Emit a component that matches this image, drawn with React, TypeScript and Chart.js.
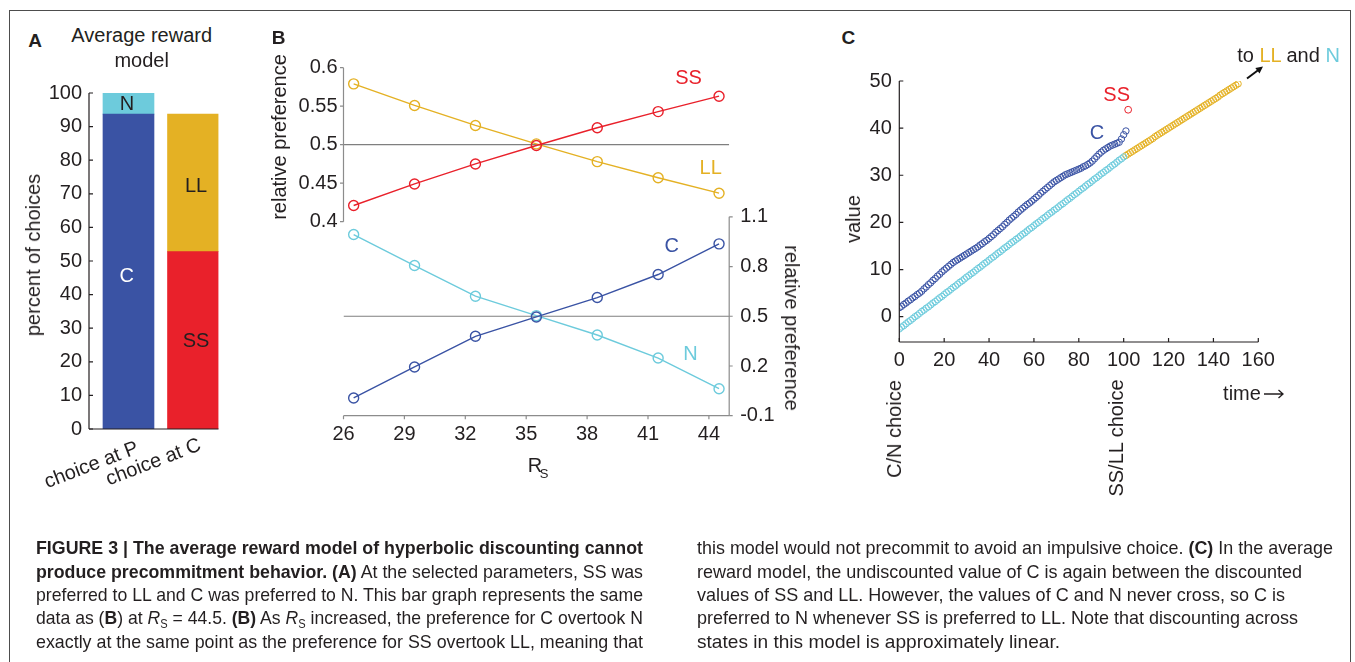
import React, { useEffect, useRef } from 'react';
import { Chart, registerables } from 'chart.js';

Chart.register(...registerables);

const FONT = '"Liberation Sans", Arial, Helvetica, sans-serif';
const NARROW = '"Liberation Sans Narrow", "Arial Narrow", "Liberation Sans", sans-serif';
const INK = '#231f20';
const NAVY = '#3a53a4';
const CYAN = '#6dcbdc';
const GOLD = '#e4b124';
const RED = '#e9212b';
const GRAY = '#8c8c8c';

// ---------- Panel A : percent of choices ----------
const barCategories = ['choice at P', 'choice at C'];
const barC = [93.7, null];
const barN = [6.3, null];
const barSS = [null, 52.8];
const barLL = [null, 40.9];
const percentTicks = [0, 10, 20, 30, 40, 50, 60, 70, 80, 90, 100];

// ---------- Panel B : relative preference vs R_S ----------
const rsValues = [26.5, 29.5, 32.5, 35.5, 38.5, 41.5, 44.5];
const prefSS = [0.421, 0.449, 0.475, 0.499, 0.522, 0.543, 0.563];
const prefLL = [0.579, 0.551, 0.525, 0.501, 0.478, 0.457, 0.437];
const prefC = [0.007, 0.194, 0.379, 0.496, 0.613, 0.752, 0.937];
const prefN = [0.993, 0.806, 0.621, 0.504, 0.387, 0.248, 0.063];
const rsTicks = [26, 29, 32, 35, 38, 41, 44];
const rsRange = [26, 45];
const prefTicksTop = [0.4, 0.45, 0.5, 0.55, 0.6];
const prefTicksBottom = [-0.1, 0.2, 0.5, 0.8, 1.1];
const indifference = 0.5;

// ---------- Panel C : value over time ----------
const timeStartC = 0;
const valueC = [
  1.9, 2.2, 2.6, 2.9, 3.3, 3.6, 4.0, 4.3, 4.7, 5.0,
  5.4, 5.9, 6.3, 6.8, 7.2, 7.7, 8.1, 8.6, 9.0, 9.5,
  9.9, 10.3, 10.7, 11.1, 11.5, 11.8, 12.1, 12.4, 12.7, 13.0,
  13.3, 13.6, 13.9, 14.2, 14.5, 14.8, 15.2, 15.5, 15.9, 16.2,
  16.6, 17.0, 17.4, 17.9, 18.3, 18.7, 19.1, 19.6, 20.0, 20.5,
  20.9, 21.3, 21.7, 22.2, 22.6, 23.0, 23.4, 23.8, 24.1, 24.5,
  24.9, 25.3, 25.7, 26.2, 26.6, 27.0, 27.4, 27.8, 28.2, 28.6,
  28.9, 29.2, 29.5, 29.8, 30.1, 30.3, 30.5, 30.7, 30.9, 31.1,
  31.3, 31.5, 31.8, 32.0, 32.3, 32.6, 33.0, 33.5, 34.0, 34.5,
  34.9, 35.3, 35.6, 35.9, 36.2, 36.4, 36.6, 36.8, 37.0, 37.7,
  38.6, 39.4,
];
const timeStartN = 0;
const valueN = [
  -2.6, -2.2, -1.9, -1.5, -1.1, -0.8, -0.4, 0.0, 0.3, 0.7,
  1.1, 1.4, 1.8, 2.1, 2.5, 2.9, 3.2, 3.6, 4.0, 4.3,
  4.7, 5.1, 5.4, 5.8, 6.2, 6.5, 6.9, 7.3, 7.6, 8.0,
  8.4, 8.7, 9.1, 9.4, 9.8, 10.2, 10.5, 10.9, 11.3, 11.6,
  12.0, 12.4, 12.7, 13.1, 13.5, 13.8, 14.2, 14.6, 14.9, 15.3,
  15.7, 16.0, 16.4, 16.7, 17.1, 17.5, 17.8, 18.2, 18.6, 18.9,
  19.3, 19.7, 20.0, 20.4, 20.8, 21.1, 21.5, 21.9, 22.2, 22.6,
  22.9, 23.3, 23.7, 24.0, 24.4, 24.8, 25.1, 25.5, 25.9, 26.2,
  26.6, 27.0, 27.3, 27.7, 28.1, 28.4, 28.8, 29.2, 29.5, 29.9,
  30.3, 30.6, 31.0, 31.3, 31.7, 32.1, 32.4, 32.8, 33.2, 33.5,
  33.9,
];
const timeStartLL = 101;
const valueLL = [
  34.2, 34.5, 34.8, 35.1, 35.4, 35.7, 36.0, 36.3, 36.6, 36.9,
  37.2, 37.5, 37.8, 38.2, 38.5, 38.8, 39.1, 39.4, 39.7, 40.0,
  40.3, 40.6, 40.9, 41.2, 41.5, 41.8, 42.1, 42.4, 42.7, 43.0,
  43.3, 43.6, 43.9, 44.2, 44.5, 44.8, 45.1, 45.4, 45.7, 46.0,
  46.3, 46.6, 47.0, 47.3, 47.6, 47.9, 48.2, 48.5, 48.8, 49.1,
  49.4,
];
const ssTime = 102;
const ssValue = 43.9;
const timeTicks = [0, 20, 40, 60, 80, 100, 120, 140, 160];
const valueTicks = [0, 10, 20, 30, 40, 50];

// ---------- helpers ----------
const tickFont = { family: FONT, size: 20 };

function axisLines(specs: any[]) {
  return {
    id: 'axisLines',
    afterDatasetsDraw(chart: any) {
      const ctx = chart.ctx;
      const ca = chart.chartArea;
      specs.forEach((s) => {
        const sc = chart.scales[s.scaleId];
        ctx.save();
        ctx.strokeStyle = s.color;
        ctx.lineWidth = s.width;
        ctx.beginPath();
        if (s.side === 'bottom') {
          const y = ca.bottom;
          ctx.moveTo(sc.getPixelForValue(s.from), y);
          ctx.lineTo(sc.getPixelForValue(s.to), y);
          s.ticks.forEach((v: number) => {
            const x = sc.getPixelForValue(v);
            ctx.moveTo(x, y);
            ctx.lineTo(x, y + s.dir * s.len);
          });
        } else {
          const x = s.side === 'left' ? ca.left : ca.right;
          const out = s.side === 'left' ? -1 : 1;
          ctx.moveTo(x, sc.getPixelForValue(s.from));
          ctx.lineTo(x, sc.getPixelForValue(s.to));
          s.ticks.forEach((v: number) => {
            const y = sc.getPixelForValue(v);
            ctx.moveTo(x, y);
            ctx.lineTo(x + out * s.dir * s.len, y);
          });
        }
        ctx.stroke();
        ctx.restore();
      });
    },
  };
}

const baseOptions = {
  animation: false,
  responsive: false,
  events: [],
  plugins: { legend: { display: false }, tooltip: { enabled: false } },
};

function linearAxis(min: number, max: number, ticks: number[], extra: any) {
  return {
    type: 'linear',
    min,
    max,
    offset: false,
    grid: { display: false, drawTicks: false, tickLength: 0 },
    border: { display: false },
    afterBuildTicks: (s: any) => {
      s.ticks = ticks.map((v) => ({ value: v }));
    },
    ...extra,
  };
}

function tickOpts(padding: number) {
  return { font: tickFont, color: INK, padding, callback: (v: any) => String(v), autoSkip: false, maxRotation: 0, minRotation: 0 };
}

// ---------- chart configs ----------
function barSet(label: string, values: (number | null)[], color: string) {
  return {
    label,
    data: values
      .map((v, i) => (v == null ? null : { x: i, y: v }))
      .filter((p) => p !== null),
    backgroundColor: color,
    borderWidth: 0,
    barThickness: 51,
    stack: 'choices',
  };
}

function configA() {
  return {
    type: 'bar',
    data: {
      datasets: [
        barSet('C', barC, NAVY),
        barSet('N', barN, CYAN),
        barSet('SS', barSS, RED),
        barSet('LL', barLL, GOLD),
      ],
    },
    options: {
      ...baseOptions,
      layout: { padding: { top: 23, right: 21.5, left: 0, bottom: 71 } },
      scales: {
        x: { type: 'linear', display: false, offset: false, min: -0.612, max: 1.395 },
        y: linearAxis(0, 100, percentTicks, {
          afterFit: (s: any) => { s.width = 89; },
          ticks: tickOpts(7),
        }),
      },
    },
    plugins: [
      axisLines([
        { scaleId: 'y', side: 'left', from: 0, to: 100, ticks: percentTicks, dir: -1, len: 4, color: INK, width: 1.2 },
        { scaleId: 'x', side: 'bottom', from: -0.612, to: 1.395, ticks: [], dir: 1, len: 0, color: INK, width: 1.2 },
      ]),
    ],
  };
}

function prefSet(label: string, values: number[], color: string, axis: string) {
  return {
    label,
    data: rsValues.map((x, i) => ({ x, y: values[i] })),
    yAxisID: axis,
    borderColor: color,
    borderWidth: 1.4,
    pointRadius: 5,
    pointBorderWidth: 1.4,
    pointBorderColor: color,
    pointBackgroundColor: 'rgba(0,0,0,0)',
    fill: false,
    tension: 0,
  };
}

function refLine(axis: string) {
  return {
    label: 'indifference',
    data: rsRange.map((x) => ({ x, y: indifference })),
    yAxisID: axis,
    borderColor: '#7f7f7f',
    borderWidth: 1.2,
    pointRadius: 0,
    fill: false,
  };
}

function configB() {
  return {
    type: 'line',
    data: {
      datasets: [
        prefSet('SS', prefSS, RED, 'yTop'),
        prefSet('LL', prefLL, GOLD, 'yTop'),
        prefSet('C', prefC, NAVY, 'yBottom'),
        prefSet('N', prefN, CYAN, 'yBottom'),
        refLine('yTop'),
        refLine('yBottom'),
      ],
    },
    options: {
      ...baseOptions,
      layout: { padding: { top: 27.7, right: 0, left: 0, bottom: 0 } },
      scales: {
        x: linearAxis(rsRange[0], rsRange[1], rsTicks, {
          position: 'bottom',
          afterFit: (s: any) => { s.height = 64.3; },
          ticks: tickOpts(7),
        }),
        yTop: linearAxis(0.148, 0.6, prefTicksTop, {
          position: 'left',
          afterFit: (s: any) => { s.width = 73.5; },
          ticks: tickOpts(6),
        }),
        yBottom: linearAxis(-0.1, 2.0, prefTicksBottom, {
          position: 'right',
          afterFit: (s: any) => { s.width = 70.8; },
          ticks: tickOpts(11),
        }),
      },
    },
    plugins: [
      axisLines([
        { scaleId: 'yTop', side: 'left', from: 0.4, to: 0.6, ticks: prefTicksTop, dir: 1, len: 3.5, color: GRAY, width: 1.2 },
        { scaleId: 'yBottom', side: 'right', from: -0.1, to: 1.1, ticks: prefTicksBottom, dir: 1, len: 3.5, color: GRAY, width: 1.2 },
        { scaleId: 'x', side: 'bottom', from: rsRange[0], to: rsRange[1], ticks: rsTicks, dir: 1, len: 3.5, color: GRAY, width: 1.2 },
      ]),
    ],
  };
}

function valueSet(label: string, start: number, values: number[], color: string, radius: number) {
  return {
    label,
    data: values.map((y, i) => ({ x: start + i, y })),
    borderColor: color,
    backgroundColor: 'rgba(0,0,0,0)',
    pointBackgroundColor: 'rgba(0,0,0,0)',
    pointBorderColor: color,
    pointRadius: radius,
    pointBorderWidth: 1,
    showLine: false,
  };
}

function configC() {
  return {
    type: 'scatter',
    data: {
      datasets: [
        valueSet('SS', ssTime, [ssValue], RED, 3.4),
        valueSet('C', timeStartC, valueC, NAVY, 3.2),
        valueSet('N', timeStartN, valueN, CYAN, 3.2),
        valueSet('LL', timeStartLL, valueLL, GOLD, 3.2),
      ],
    },
    options: {
      ...baseOptions,
      layout: { padding: { top: 26, right: 41.7, left: 0, bottom: 0 } },
      scales: {
        x: linearAxis(0, 160, timeTicks, {
          position: 'bottom',
          afterFit: (s: any) => { s.height = 58; },
          ticks: tickOpts(6),
        }),
        y: linearAxis(-5.37, 50, valueTicks, {
          position: 'left',
          afterFit: (s: any) => { s.width = 59.3; },
          ticks: tickOpts(7.5),
        }),
      },
    },
    plugins: [
      axisLines([
        { scaleId: 'y', side: 'left', from: -5.37, to: 50, ticks: valueTicks, dir: -1, len: 4, color: INK, width: 1.2 },
        { scaleId: 'x', side: 'bottom', from: 0, to: 160, ticks: timeTicks, dir: -1, len: 4, color: INK, width: 1.2 },
      ]),
    ],
  };
}

function ChartCanvas({ left, top, width, height, make }: any) {
  const ref = useRef<HTMLCanvasElement>(null);
  useEffect(() => {
    const chart = new Chart(ref.current as any, make() as any);
    return () => chart.destroy();
  }, []);
  return (
    <canvas
      ref={ref}
      width={width}
      height={height}
      style={{ position: 'absolute', left, top, width, height }}
    />
  );
}

function Txt({ x, y, children, size = 20, color = INK, weight = 400, rot = 0 }: any) {
  return (
    <div
      style={{
        position: 'absolute',
        left: x,
        top: y,
        transform: `translate(-50%, -50%) rotate(${rot}deg)`,
        fontFamily: FONT,
        fontSize: size,
        fontWeight: weight,
        color,
        lineHeight: 1,
        whiteSpace: 'nowrap',
      }}
    >
      {children}
    </div>
  );
}

const cap = { fontFamily: NARROW, fontSize: 19, fill: INK };

export default function App() {
  return (
    <div
      style={{
        position: 'absolute',
        left: 0,
        top: 0,
        width: 1355,
        height: 662,
        overflow: 'hidden',
        background: '#fff',
      }}
    >
      <div
        style={{
          position: 'absolute',
          left: 9,
          top: 10,
          width: 1340,
          height: 720,
          border: '1.4px solid #4d4d4d',
        }}
      />

      <ChartCanvas left={0} top={70} width={240} height={430} make={configA} />
      <ChartCanvas left={270} top={40} width={530} height={440} make={configB} />
      <ChartCanvas left={840} top={55} width={460} height={345} make={configC} />

      {/* Panel A */}
      <Txt x={35} y={40} size={19} weight={700}>A</Txt>
      <Txt x={141.7} y={35}>Average reward</Txt>
      <Txt x={141.7} y={60}>model</Txt>
      <Txt x={33.3} y={255} rot={-90}>percent of choices</Txt>
      <Txt x={127} y={103.3}>N</Txt>
      <Txt x={126.7} y={275} color="#ffffff">C</Txt>
      <Txt x={196} y={185}>LL</Txt>
      <Txt x={196} y={340}>SS</Txt>
      <Txt x={90.5} y={464} rot={-21}>{barCategories[0]}</Txt>
      <Txt x={152.5} y={461} rot={-21}>{barCategories[1]}</Txt>

      {/* Panel B */}
      <Txt x={278.6} y={37} size={19} weight={700}>B</Txt>
      <Txt x={279} y={137} rot={-90}>relative preference</Txt>
      <Txt x={792} y={327.5} rot={90}>relative preference</Txt>
      <Txt x={535} y={465}>R</Txt>
      <Txt x={544} y={473} size={13}>S</Txt>
      <Txt x={688.6} y={77} color={RED}>SS</Txt>
      <Txt x={710.7} y={167} color={GOLD}>LL</Txt>
      <Txt x={671.8} y={245} color={NAVY}>C</Txt>
      <Txt x={690.4} y={353} color={CYAN}>N</Txt>

      {/* Panel C */}
      <Txt x={848.3} y={37} size={19} weight={700}>C</Txt>
      <Txt x={853} y={219} rot={-90}>value</Txt>
      <Txt x={1097} y={131.7} color={NAVY}>C</Txt>
      <Txt x={1116.7} y={94} color={RED}>SS</Txt>
      <Txt x={1288.5} y={55}>
        to <span style={{ color: GOLD }}>LL</span> and <span style={{ color: CYAN }}>N</span>
      </Txt>
      <Txt x={1242} y={393}>time</Txt>
      <Txt x={894} y={428.5} rot={-90}>C/N choice</Txt>
      <Txt x={1116} y={437.5} rot={-90}>SS/LL choice</Txt>

      <svg style={{ position: 'absolute', left: 0, top: 0 }} width={1355} height={662}>
        <line x1={1247} y1={78.5} x2={1258} y2={70.3} stroke="#111" strokeWidth={2} />
        <polygon points="1263,66.5 1259.5,73.5 1255.3,67.9" fill="#111" />
        <path d="M1264 394 H1283 M1278.5 390 L1283 394 L1278.5 398" stroke={INK} strokeWidth={1.3} fill="none" />

        <text x={36} y={554} textLength={607} lengthAdjust="spacingAndGlyphs" {...cap} fontWeight="bold">
          FIGURE 3 | The average reward model of hyperbolic discounting cannot
        </text>
        <text x={36} y={578} textLength={607} lengthAdjust="spacingAndGlyphs" {...cap}>
          <tspan fontWeight="bold">produce precommitment behavior. (A)</tspan> At the selected parameters, SS was
        </text>
        <text x={36} y={601} textLength={607} lengthAdjust="spacingAndGlyphs" {...cap}>
          preferred to LL and C was preferred to N. This bar graph represents the same
        </text>
        <text x={36} y={624} textLength={607} lengthAdjust="spacingAndGlyphs" {...cap}>
          data as (<tspan fontWeight="bold">B</tspan>) at <tspan fontStyle="italic">R</tspan>
          <tspan fontSize={12} dy={4}>S</tspan>
          <tspan dy={-4}> = 44.5. </tspan>
          <tspan fontWeight="bold">(B)</tspan> As <tspan fontStyle="italic">R</tspan>
          <tspan fontSize={12} dy={4}>S</tspan>
          <tspan dy={-4}> increased, the preference for C overtook N</tspan>
        </text>
        <text x={36} y={648} textLength={607} lengthAdjust="spacingAndGlyphs" {...cap}>
          exactly at the same point as the preference for SS overtook LL, meaning that
        </text>

        <text x={697} y={554} textLength={636} lengthAdjust="spacingAndGlyphs" {...cap}>
          this model would not precommit to avoid an impulsive choice. <tspan fontWeight="bold">(C)</tspan> In the average
        </text>
        <text x={697} y={578} textLength={605} lengthAdjust="spacingAndGlyphs" {...cap}>
          reward model, the undiscounted value of C is again between the discounted
        </text>
        <text x={697} y={601} textLength={588} lengthAdjust="spacingAndGlyphs" {...cap}>
          values of SS and LL. However, the values of C and N never cross, so C is
        </text>
        <text x={697} y={624} textLength={601} lengthAdjust="spacingAndGlyphs" {...cap}>
          preferred to N whenever SS is preferred to LL. Note that discounting across
        </text>
        <text x={697} y={648} textLength={363} lengthAdjust="spacingAndGlyphs" {...cap}>
          states in this model is approximately linear.
        </text>
      </svg>
    </div>
  );
}
